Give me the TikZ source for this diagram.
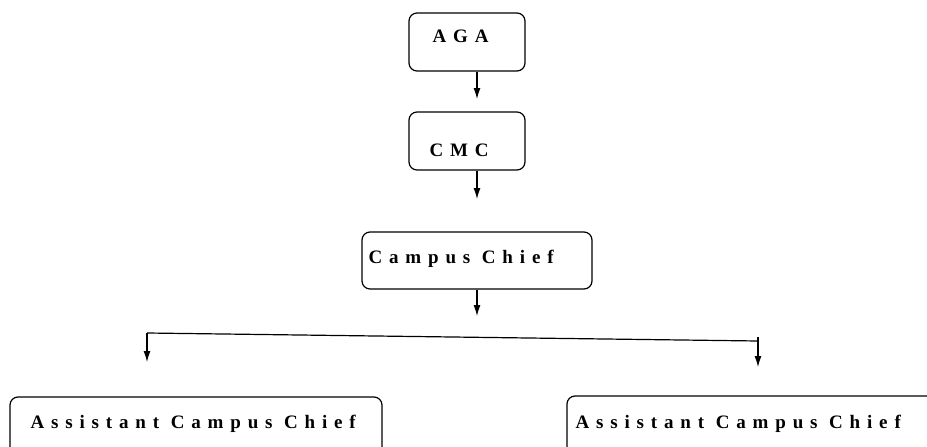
\documentclass[tikz,border=0pt]{standalone}
\usepackage{fontspec}
\setmainfont{Liberation Serif}
\newfontfamily\chartfont{Liberation Serif}[LetterSpace=36]
\usetikzlibrary{arrows.meta,calc,positioning}
\tikzset{
  post/.style={draw,rounded corners=8pt,line width=1.2pt,inner sep=0pt},
  lbl/.style={inner sep=0pt,anchor=base west,font=\chartfont\bfseries\fontsize{19}{21}\selectfont},
  link/.style={line width=1.2pt,-{Latex[length=11pt,width=7pt]}}
}

\begin{document}
\begin{tikzpicture}[x=1pt,y=-1pt]
\useasboundingbox (0,0) rectangle (927,447);
\clip (0,0) rectangle (927,447);

\node[post,minimum width=116pt,minimum height=58pt] (aga) at (467,42) {};
\node[post,minimum width=116pt,minimum height=58pt] (cmc) at (467,141) {};
\node[post,minimum width=230pt,minimum height=57pt] (chief) at (477,260.5) {};
\node[post,minimum width=372pt,minimum height=83pt] (asstL) at (196,438.5) {};
\node[post,minimum width=393pt,minimum height=84pt] (asstR) at (763.5,438) {};

\node[lbl] (agaTxt) at ($(aga.north west)+(24,30)$) {AGA};
\node[lbl] (cmcTxt) at ($(cmc.north west)+(21,45)$) {CMC};
\node[lbl] (chiefTxt) at ($(chief.north west)+(7,32)$) {Campus Chief};
\node[lbl] (asstLTxt) at ($(asstL.north west)+(21,32)$) {Assistant Campus Chief};
\node[lbl] (asstRTxt) at ($(asstR.north west)+(9,33)$) {Assistant Campus Chief};

\coordinate (aOut) at ($(aga.south)+(10,0)$);
\coordinate (aEnd) at (477,99);
\coordinate (cOut) at ($(cmc.south)+(10,0)$);
\coordinate (cEnd) at (477,199);
\coordinate (hOut) at (chief.south);
\coordinate (hEnd) at (477,316);
\coordinate (bl) at (147,333);
\coordinate (br) at (758,341);
\coordinate (brTop) at (758,337);
\coordinate (blEnd) at (147,362);
\coordinate (brEnd) at (758,367);

\draw[link] (aOut) -- (aEnd);
\draw[link] (cOut) -- (cEnd);
\draw[link] (hOut) -- (hEnd);
\draw[line width=1.2pt] (bl) -- (br);
\draw[link] (bl) -- (blEnd);
\draw[link] (brTop) -- (brEnd);

\end{tikzpicture}
\end{document}
